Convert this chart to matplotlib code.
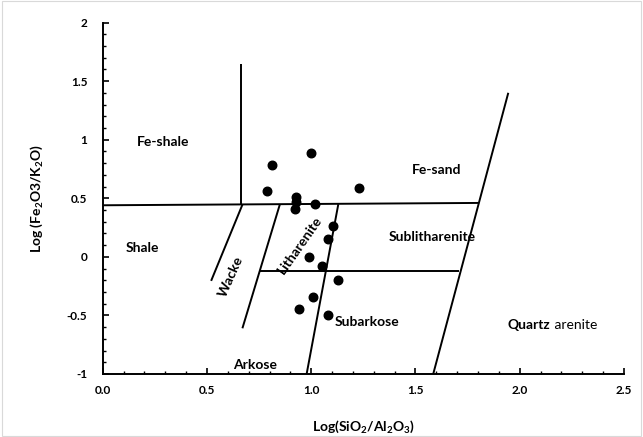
import matplotlib
matplotlib.use('Agg')
import matplotlib.pyplot as plt
from matplotlib.ticker import MultipleLocator, FormatStrFormatter
from matplotlib.patches import Rectangle

plt.rcParams['font.family'] = ['Lato', 'DejaVu Sans']
plt.rcParams['mathtext.fontset'] = 'custom'
plt.rcParams['mathtext.rm'] = 'Lato:bold'
plt.rcParams['mathtext.bf'] = 'Lato:bold'

# sample points
log_si_al = [1.00, 0.81, 0.79, 1.23, 0.925, 0.925, 0.92, 1.02, 1.105, 1.08, 0.99, 1.05, 1.13, 1.01, 0.94, 1.08]
log_fe_k = [0.89, 0.78, 0.56, 0.59, 0.51, 0.47, 0.41, 0.45, 0.26, 0.15, 0.00, -0.075, -0.195, -0.345, -0.445, -0.50]

# field boundaries (x pairs, y pairs)
boundaries = {
    'fe_shale': ([0.665, 0.665], [1.65, 0.445]),
    'fe_line': ([0.0, 1.805], [0.44, 0.46]),
    'quartz': ([1.585, 1.945], [-1.0, 1.40]),
    'sub_line': ([0.75, 1.71], [-0.125, -0.125]),
    'wacke': ([0.67, 0.52], [0.445, -0.205]),
    'arkose': ([0.85, 0.67], [0.45, -0.61]),
    'subarkose': ([1.13, 0.978], [0.45, -1.0]),
}

# field names: (text, x, y, rotation)
fields = [
    ('Fe-shale', 0.29, 0.98, 0),
    ('Shale', 0.19, 0.075, 0),
    ('Wacke', 0.615, -0.17, 66),
    ('Litharenite', 0.945, 0.10, 55),
    ('Arkose', 0.73, -0.92, 0),
    ('Subarkose', 1.27, -0.56, 0),
    ('Sublitharenite', 1.58, 0.17, 0),
    ('Fe-sand', 1.60, 0.74, 0),
]

fig = plt.figure(figsize=(6.43, 4.37), dpi=100)
fig.patches.append(Rectangle((0.003, 0.003), 0.994, 0.994, transform=fig.transFigure,
                             fill=False, edgecolor='#d9d9d9', linewidth=0.8))
ax = fig.add_axes([0.1597, 0.1442, 0.8108, 0.8043])

for xs, ys in boundaries.values():
    ax.plot(xs, ys, color='black', linewidth=1.4, solid_capstyle='butt')

ax.scatter(log_si_al, log_fe_k, s=38, color='black', zorder=3)

for name, x, y, rot in fields:
    ax.text(x, y, name, ha='center', va='center', rotation=rot,
            fontsize=10, fontweight='bold')
ax.text(2.145, -0.58, 'Quartz', ha='right', va='center', fontsize=10, fontweight='bold')
ax.text(2.15, -0.58, ' arenite', ha='left', va='center', fontsize=10)

ax.set_xlim(0, 2.5)
ax.set_ylim(-1, 2)
ax.xaxis.set_major_locator(MultipleLocator(0.5))
ax.xaxis.set_minor_locator(MultipleLocator(0.1))
ax.yaxis.set_major_locator(MultipleLocator(0.5))
ax.yaxis.set_minor_locator(MultipleLocator(0.1))
ax.xaxis.set_major_formatter(FormatStrFormatter('%.1f'))
ax.yaxis.set_major_formatter(plt.FuncFormatter(lambda v, p: f'{v:g}'))

for s in ['top', 'right']:
    ax.spines[s].set_visible(False)
for s in ['left', 'bottom']:
    ax.spines[s].set_linewidth(1.4)

ax.tick_params(which='major', direction='in', length=4, width=1.2, labelsize=8.5, pad=8)
ax.tick_params(which='minor', direction='in', length=2.5, width=1)
for lab in ax.get_xticklabels() + ax.get_yticklabels():
    lab.set_fontweight('bold')
ax.tick_params(axis='y', pad=11)

ax.set_xlabel(r'Log(SiO$_2$/Al$_2$O$_3$)', fontsize=10, fontweight='bold', labelpad=16)
ax.set_ylabel(r'Log (Fe$_2$O3/K$_2$O)', fontsize=10, fontweight='bold', labelpad=16)

fig.savefig('out.png', dpi=100)
